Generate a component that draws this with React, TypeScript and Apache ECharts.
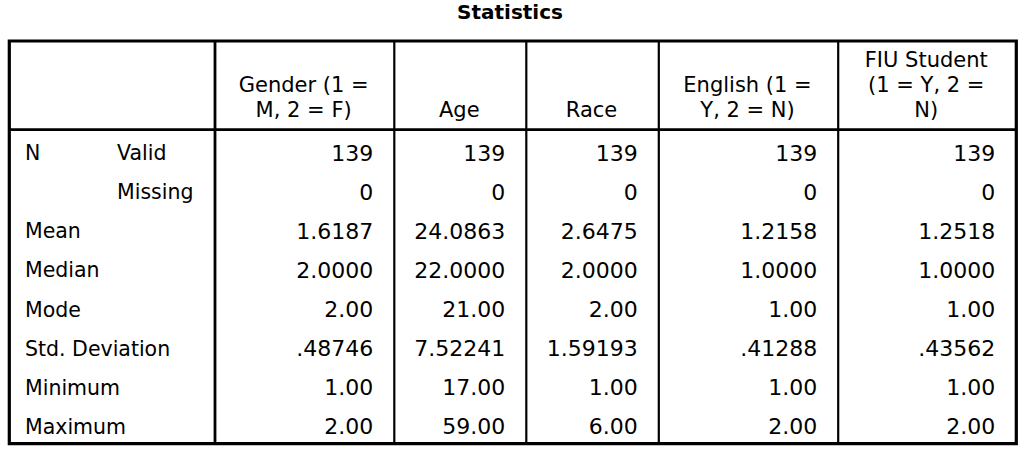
import React, { useEffect, useRef } from "react";
import * as echarts from "echarts";

const tableTitle = "Statistics";
const columnHeaders = [
  "Gender (1 =\nM, 2 = F)",
  "Age",
  "Race",
  "English (1 =\nY, 2 = N)",
  "FIU Student\n(1 = Y, 2 =\nN)",
];
const rowLabels = ["N", "", "Mean", "Median", "Mode", "Std. Deviation", "Minimum", "Maximum"];
const rowSubLabels = ["Valid", "Missing", "", "", "", "", "", ""];
const genderValues = ["139", "0", "1.6187", "2.0000", "2.00", ".48746", "1.00", "2.00"];
const ageValues = ["139", "0", "24.0863", "22.0000", "21.00", "7.52241", "17.00", "59.00"];
const raceValues = ["139", "0", "2.6475", "2.0000", "2.00", "1.59193", "1.00", "6.00"];
const englishValues = ["139", "0", "1.2158", "1.0000", "1.00", ".41288", "1.00", "2.00"];
const fiuValues = ["139", "0", "1.2518", "1.0000", "1.00", ".43562", "1.00", "2.00"];
const columnValues = [genderValues, ageValues, raceValues, englishValues, fiuValues];

export default function App() {
  const ref = useRef<HTMLDivElement>(null);
  useEffect(() => {
    if (!ref.current) return;
    const chart = echarts.init(ref.current, null, { renderer: "svg" });
    const font = "'DejaVu Sans', sans-serif";
    const fs = 20.5;
    const numFs = 22;
    const color = "#000";
    const left = 9.3;
    const right = 1016.3;
    const top = 41;
    const bottom = 443.6;
    const headerBottom = 129.7;
    const colEdges = [215, 394.3, 526.3, 658.8, 838.2, right];
    const rowY0 = 153;
    const rowStep = 39.14;
    const elements: any[] = [];

    elements.push({
      type: "text",
      x: 510,
      y: 12,
      style: { text: tableTitle, font: `bold 20px ${font}`, fill: color, align: "center", verticalAlign: "middle" },
    });

    // Outer border
    elements.push({
      type: "rect",
      shape: { x: left, y: top, width: right - left, height: bottom - top },
      style: { fill: "#fff", stroke: "#000", lineWidth: 3.2 },
    });
    // Header bottom line
    elements.push({
      type: "line",
      shape: { x1: left, y1: headerBottom, x2: right, y2: headerBottom },
      style: { stroke: "#000", lineWidth: 2.8 },
    });
    // Column separators
    for (let c = 0; c < colEdges.length - 1; c++) {
      elements.push({
        type: "line",
        shape: { x1: colEdges[c], y1: top, x2: colEdges[c], y2: bottom },
        style: { stroke: "#000", lineWidth: c === 0 ? 2.8 : 2.2 },
      });
    }

    // Headers
    columnHeaders.forEach((h, c) => {
      const lines = h.split("\n");
      const cx = (colEdges[c] + colEdges[c + 1]) / 2 - 1;
      lines.forEach((ln, i) => {
        const y = 109.5 - (lines.length - 1 - i) * 24.8;
        elements.push({
          type: "text",
          x: cx,
          y,
          style: { text: ln, font: `21px ${font}`, fill: color, align: "center", verticalAlign: "middle" },
        });
      });
    });

    // Rows
    rowLabels.forEach((lab, r) => {
      const y = rowY0 + r * rowStep;
      if (lab) {
        elements.push({
          type: "text",
          x: 25,
          y,
          style: { text: lab, font: `${fs}px ${font}`, fill: color, align: "left", verticalAlign: "middle" },
        });
      }
      if (rowSubLabels[r]) {
        elements.push({
          type: "text",
          x: 117,
          y,
          style: { text: rowSubLabels[r], font: `${fs}px ${font}`, fill: color, align: "left", verticalAlign: "middle" },
        });
      }
      columnValues.forEach((vals, c) => {
        elements.push({
          type: "text",
          x: colEdges[c + 1] - 21,
          y,
          style: { text: vals[r], font: `${numFs}px ${font}`, fill: color, align: "right", verticalAlign: "middle" },
        });
      });
    });

    chart.setOption({
      animation: false,
      backgroundColor: "#fff",
      graphic: { elements },
    });
    return () => chart.dispose();
  }, []);
  return (
    <div
      ref={ref}
      style={{ position: "fixed", left: 0, top: 0, width: 1024, height: 460, background: "#fff" }}
    />
  );
}
